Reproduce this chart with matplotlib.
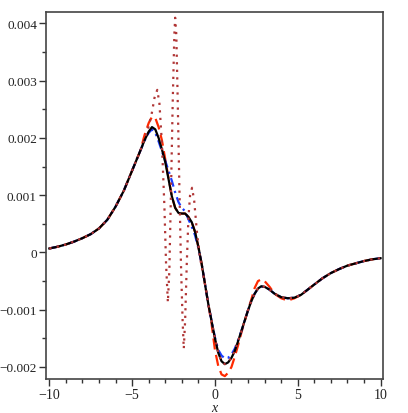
import matplotlib
matplotlib.use("Agg")
import matplotlib.pyplot as plt
from matplotlib.ticker import MultipleLocator, FuncFormatter

# Common x grid for the smooth curves
x = [-10, -9.5, -9, -8.5, -8, -7.5, -7, -6.5, -6, -5.5, -5, -4.5, -4.25, -4.0, -3.8, -3.6,
     -3.4, -3.2, -3.0, -2.8, -2.6, -2.4, -2.2, -2.0, -1.8, -1.6, -1.4, -1.2, -1.0, -0.8,
     -0.6, -0.4, -0.2, 0.0, 0.2, 0.4, 0.6, 0.8, 1.0, 1.2, 1.4, 1.6, 1.8, 2.0, 2.2, 2.4,
     2.6, 2.8, 3.0, 3.3, 3.6, 4.0, 4.4, 4.8, 5.2, 5.6, 6.0, 6.5, 7.0, 7.5, 8.0, 8.5, 9.0,
     9.5, 10.0]

exact = [0.00007, 0.0001, 0.00014, 0.00019, 0.00025, 0.00032, 0.00042, 0.00057, 0.0008,
         0.00108, 0.00143, 0.00178, 0.00196, 0.00211, 0.00219, 0.00215,
         0.002, 0.0018, 0.00158, 0.00128, 0.00098, 0.00078, 0.00069, 0.00068, 0.00068,
         0.00062, 0.00053, 0.00036, 0.0001, -0.0002,
         -0.00055, -0.0009, -0.0012, -0.0015, -0.00175, -0.0019, -0.00195, -0.00192,
         -0.00184, -0.00172, -0.00155, -0.00137, -0.00119, -0.00101, -0.00085, -0.00072,
         -0.00063, -0.00059, -0.0006, -0.00065, -0.00072, -0.00078, -0.0008, -0.00079,
         -0.00074, -0.00065, -0.00056, -0.00045, -0.00036, -0.00029, -0.00023, -0.00019,
         -0.00015, -0.00012, -0.0001]

approx_red = [0.00007, 0.0001, 0.00014, 0.00019, 0.00025, 0.00032, 0.00042, 0.00057, 0.0008,
              0.00108, 0.00143, 0.00178, 0.00205, 0.00226, 0.00237, 0.00235,
              0.00219, 0.00196, 0.00163, 0.0013, 0.00098, 0.00078, 0.00069, 0.00068, 0.00068,
              0.00062, 0.00053, 0.00036, 0.0001, -0.0002,
              -0.00055, -0.0009, -0.00125, -0.0017, -0.00198, -0.00213, -0.00216, -0.0021,
              -0.002, -0.00182, -0.00162, -0.0014, -0.0012, -0.001, -0.00082, -0.00062,
              -0.0005, -0.00047, -0.0005, -0.0006, -0.00072, -0.0008, -0.00084, -0.0008,
              -0.00074, -0.00065, -0.00056, -0.00045, -0.00036, -0.00029, -0.00023, -0.00019,
              -0.00015, -0.00012, -0.0001]

approx_blue = [0.00007, 0.0001, 0.00014, 0.00019, 0.00025, 0.00032, 0.00042, 0.00057, 0.0008,
               0.00108, 0.00143, 0.00178, 0.00195, 0.00209, 0.00215, 0.00209,
               0.00194, 0.00177, 0.0016, 0.00143, 0.00125, 0.00105, 0.00088, 0.00078, 0.00072,
               0.00058, 0.00045, 0.0003, 0.00008, -0.0002,
               -0.00055, -0.0009, -0.0012, -0.00148, -0.0017, -0.0018, -0.00185, -0.00184,
               -0.00178, -0.00168, -0.00153, -0.00137, -0.00119, -0.00101, -0.00085, -0.00072,
               -0.00063, -0.0006, -0.0006, -0.00065, -0.00072, -0.00078, -0.0008, -0.00079,
               -0.00074, -0.00065, -0.00056, -0.00045, -0.00036, -0.00029, -0.00023, -0.00019,
               -0.00015, -0.00012, -0.0001]

# Oscillating dotted approximation
x_dot = [-10, -9.5, -9, -8.5, -8, -7.5, -7, -6.5, -6, -5.5, -5, -4.5, -4.2, -4.0, -3.8,
         -3.65, -3.48, -3.35, -3.2, -3.05, -2.95, -2.84, -2.75, -2.65, -2.55, -2.45, -2.4,
         -2.33, -2.25, -2.15, -2.05, -1.95, -1.88, -1.8, -1.7, -1.6, -1.5, -1.38, -1.25,
         -1.1, -0.95, -0.8, -0.6, -0.4, -0.2, 0.0, 0.2, 0.4, 0.6, 0.8, 1.0, 1.2, 1.4, 1.6,
         1.8, 2.0, 2.2, 2.4, 2.6, 2.8, 3.0, 3.3, 3.6, 4.0, 4.4, 4.8, 5.2, 5.6, 6.0, 6.5,
         7.0, 7.5, 8.0, 8.5, 9.0, 9.5, 10.0]
y_dot = [0.00007, 0.0001, 0.00014, 0.00019, 0.00025, 0.00032, 0.00042, 0.00057, 0.0008,
         0.00108, 0.00143, 0.00178, 0.00203, 0.0022, 0.00245,
         0.0027, 0.00284, 0.0026, 0.0019, 0.0008, -0.0002, -0.00087, -0.0003, 0.0011,
         0.0026, 0.0038, 0.0041,
         0.0038, 0.0027, 0.0012, -0.0002, -0.0012, -0.00168, -0.0012, -0.0002, 0.0006,
         0.001, 0.00113, 0.0009,
         0.0004, 0.0, -0.00025, -0.00055, -0.0009, -0.0012, -0.0015, -0.00175, -0.0019,
         -0.00195, -0.00192, -0.00184, -0.00172, -0.00155, -0.00137,
         -0.00119, -0.00101, -0.00085, -0.00072, -0.00063, -0.00059, -0.0006, -0.00065,
         -0.00072, -0.00078, -0.0008, -0.00079, -0.00074, -0.00065, -0.00056, -0.00045,
         -0.00036, -0.00029, -0.00023, -0.00019, -0.00015, -0.00012, -0.0001]

x_ticks = [-10, -5, 0, 5, 10]
y_ticks = [-0.002, -0.001, 0, 0.001, 0.002, 0.003, 0.004]

fig = plt.figure(figsize=(4.08, 4.14), dpi=100)
ax = fig.add_axes([46/408, 1-380/414, (383-46)/408, (380-13)/414])

common = dict(lw=1.6, solid_joinstyle="round", dash_joinstyle="round")
ax.plot(x, approx_red, color="#ff2a00", dashes=(5, 2.5), zorder=2, **common)
ax.plot(x, approx_blue, color="#1a3cff", dashes=(4, 2, 1, 2), zorder=3, **common)
ax.plot(x, exact, color="black", zorder=4, **common)
ax.plot(x_dot, y_dot, color="#b03535", dashes=(1, 2.4), zorder=5, **common)

ax.set_xlim(-10.2, 10.15)
ax.set_ylim(-0.00221, 0.0042)

ax.set_xticks(x_ticks)
ax.set_yticks(y_ticks)
ax.xaxis.set_minor_locator(MultipleLocator(1))
ax.yaxis.set_minor_locator(MultipleLocator(0.0005))

def yfmt(v, pos):
    if abs(v) < 1e-12:
        return "0"
    s = "%.3f" % v
    return s.replace("-", "\u2212")

def xfmt(v, pos):
    s = "%d" % round(v)
    return s.replace("-", "\u2212")

ax.yaxis.set_major_formatter(FuncFormatter(yfmt))
ax.xaxis.set_major_formatter(FuncFormatter(xfmt))

font = "Liberation Serif"
for lab in ax.get_xticklabels():
    lab.set_fontfamily(font)
    lab.set_fontsize(10)
    lab.set_color("#222222")
for lab in ax.get_yticklabels():
    lab.set_fontfamily(font)
    lab.set_fontsize(9.5)
    lab.set_color("#222222")

ax.tick_params(axis="both", which="major", length=5, width=1, color="#333333", pad=1.5)
ax.tick_params(axis="both", which="minor", length=3, width=1, color="#333333")
ax.tick_params(top=False, right=False)

for sp in ax.spines.values():
    sp.set_color("#444444")
    sp.set_linewidth(1.2)

ax.set_xlabel("x", fontfamily=font, fontstyle="italic", fontsize=10, color="#222222")
ax.xaxis.set_label_coords(0.5, -0.06)

fig.savefig("out.png", dpi=100)
